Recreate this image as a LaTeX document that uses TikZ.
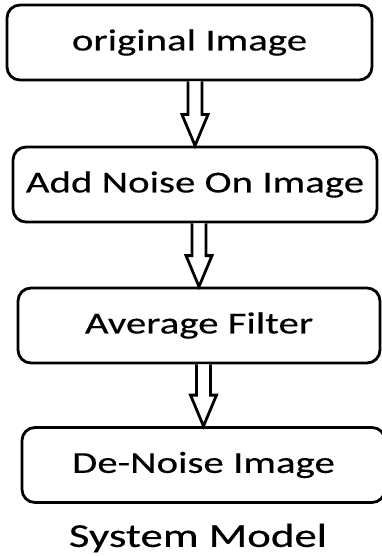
\documentclass[tikz,border=0pt]{standalone}
\usepackage{fontspec}
\setmainfont{Carlito}[FakeStretch=1.34, FakeBold=0.35]
\usetikzlibrary{calc}
\tikzset{
  stage/.style={draw=black, line width=2.8pt, rounded corners=13pt, fill=white,
    minimum height=75pt, inner sep=0pt, font=\fontsize{30.5}{36}\selectfont},
  fatarrow/.style={draw=black, line width=2.8pt, fill=white, line join=miter},
}
\begin{document}
\begin{tikzpicture}[x=1pt, y=-1pt]
  \useasboundingbox (0,0) rectangle (382,556);
  \clip (0,0) rectangle (382,556);
  \node[stage, minimum width=365pt] (orig)  at (189.5,42.5) {original Image};
  \node[stage, minimum width=364pt] (noise) at (195,184.5) {Add Noise On Image};
  \node[stage, minimum width=362pt] (avg)   at (199,325.5) {Average Filter};
  \node[stage, minimum width=363pt] (den)   at (203.5,465) {De-Noise Image};
  \node[font=\fontsize{33.5}{40}\selectfont] (title) at (198,538) {System Model};
  % hollow block arrows between the stages
  \foreach \a/\b in {orig/noise, noise/avg, avg/den}{
    \draw[fatarrow] let \p1=(\b.north), \p2=(\a.south) in
      (\x1-7pt,\y2) -- (\x1-7pt,\y1+31pt) -- (\x1-13pt,\y1+31pt) -- (\x1,\y1)
      -- (\x1+13pt,\y1+31pt) -- (\x1+7pt,\y1+31pt) -- (\x1+7pt,\y2);
  }
\end{tikzpicture}
\end{document}
